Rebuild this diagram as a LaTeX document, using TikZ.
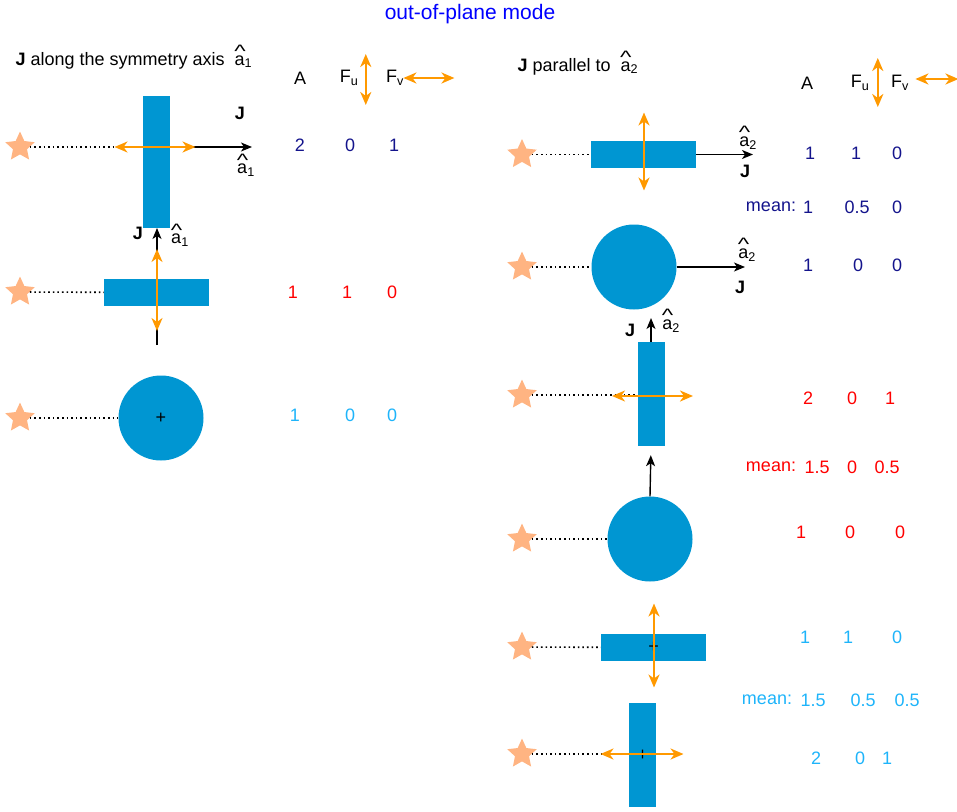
\documentclass[tikz,border=0pt]{standalone}
\usepackage{fontspec}
\usepackage{graphicx}
\setmainfont{Liberation Sans}
\usetikzlibrary{shapes.geometric, arrows.meta}

\definecolor{beamblue}{RGB}{0,150,210}
\definecolor{starorange}{RGB}{255,180,130}
\definecolor{forceorange}{RGB}{255,153,0}
\definecolor{valnavy}{RGB}{20,20,140}
\definecolor{valsky}{RGB}{30,180,250}

% a with a hat and an index
\newcommand{\ahat}[1]{\makebox[0pt][l]{\raisebox{0.42em}{\kern-0.02em\scalebox{1.35}[1]{\char"5E}}}a\textsubscript{#1}}

\tikzset{
    source/.style={star, star points=5, star point ratio=2.1, fill=starorange, minimum size=31pt, inner sep=0pt},
    hbeam/.style={rectangle, fill=beamblue, minimum width=105pt, minimum height=27pt, inner sep=0pt},
    vbeam/.style={rectangle, fill=beamblue, minimum width=27pt, minimum height=104pt, inner sep=0pt},
    disc/.style={circle, fill=beamblue, minimum size=85pt, inner sep=0pt},
    ray/.style={dash pattern=on 1.6pt off 3pt, line width=1.6pt},
    jarrow/.style={-{Stealth[length=11pt, width=9pt, inset=3pt]}, line width=1.4pt},
    farrow/.style={{Stealth[length=13pt, width=11pt, inset=4pt]}-{Stealth[length=13pt, width=11pt, inset=4pt]}, draw=forceorange, line width=2.2pt},
    bold/.style={font=\fontsize{18}{21}\selectfont\bfseries},
}

\begin{document}
\begin{tikzpicture}[x=1pt, y=-1pt, every node/.style={font=\fontsize{18}{21}\selectfont}]
    \useasboundingbox (0,0) rectangle (957,811);

    \node[text=blue, font=\fontsize{21}{24}\selectfont] (title) at (470,14) {out-of-plane mode};

    % left column: J along a1
    \node[anchor=west] (headL) at (12,57) {\textbf{J} along the symmetry axis \ \ahat{1}};
    \node (colAL) at (300,78) {A};
    \node (colFuL) at (349,78) {F\textsubscript{u}};
    \node (colFvL) at (395,78) {F\textsubscript{v}};
    \draw[farrow] ([shift={(4,-24)}]colFuL.east) -- ([shift={(4,27)}]colFuL.east);
    \draw[farrow] ([xshift=-4pt]colFvL.east) -- ([xshift=47pt]colFvL.east);

    % row 1
    \coordinate (jL1) at (252,147);
    \node[source] (sL1) at (20,147) {};
    \node[vbeam, minimum height=132pt] (bL1) at (156.5,162) {};
    \draw[ray] (sL1) -- ([yshift=15pt]bL1.west);
    \draw[jarrow] ([yshift=15pt]bL1.east) -- (jL1);
    \draw[farrow] ([shift={(-42,-15)}]bL1.center) -- ([shift={(39,-15)}]bL1.center);
    \node[bold] at (240,113) {J};
    \node at (246,165) {\ahat{1}};
    \node[text=valnavy] at (300,145) {2};
    \node[text=valnavy] at (350,145) {0};
    \node[text=valnavy] at (394,145) {1};

    % row 2
    \coordinate (tL2) at (157,345);
    \coordinate (jL2) at (157,228);
    \draw[jarrow] (tL2) -- (jL2);
    \node[source] (sL2) at (20,292) {};
    \node[hbeam] (bL2) at (156.5,292.5) {};
    \draw[ray] (sL2) -- (bL2);
    \draw[farrow] ([shift={(0.5,-43.5)}]bL2.center) -- ([shift={(0.5,38.5)}]bL2.center);
    \node[bold] at (138,233) {J};
    \node at (180,235) {\ahat{1}};
    \node[text=red] at (293,292) {1};
    \node[text=red] at (347,292) {1};
    \node[text=red] at (392,292) {0};

    % row 3
    \node[source] (sL3) at (20,418) {};
    \node[disc] (cL3) at (161,418) {};
    \draw[ray] (sL3) -- (cL3);
    \node at (cL3.center) {+};
    \node[text=valsky] at (295,415) {1};
    \node[text=valsky] at (350,415) {0};
    \node[text=valsky] at (392,415) {0};

    % right column: J parallel to a2
    \node[anchor=west] (headR) at (514,63) {\textbf{J} parallel to \ \ahat{2}};
    \node (colAR) at (807,83) {A};
    \node (colFuR) at (860,83) {F\textsubscript{u}};
    \node (colFvR) at (900,83) {F\textsubscript{v}};
    \draw[farrow] ([shift={(5,-25)}]colFuR.east) -- ([shift={(5,24)}]colFuR.east);
    \draw[farrow] ([shift={(3,-4)}]colFvR.east) -- ([shift={(46,-4)}]colFvR.east);

    % row 1
    \coordinate (jR1) at (753,154.5);
    \node[source] (sR1) at (522,154.5) {};
    \node[hbeam] (bR1) at (643.5,154.5) {};
    \draw[ray] (sR1) -- (bR1);
    \draw[jarrow] (bR1.east) -- (jR1);
    \draw[farrow] ([shift={(0.5,-42)}]bR1.center) -- ([shift={(0.5,36)}]bR1.center);
    \node at (748,138) {\ahat{2}};
    \node[bold] at (745,171) {J};
    \node[text=valnavy] at (810,153) {1};
    \node[text=valnavy] at (856,153) {1};
    \node[text=valnavy] at (897,153) {0};
    \node[text=valnavy] at (771,207) {mean:};
    \node[text=valnavy] at (808,207) {1};
    \node[text=valnavy] at (857,207) {0.5};
    \node[text=valnavy] at (897,207) {0};

    % row 2
    \coordinate (jR2) at (745,267);
    \node[source] (sR2) at (522,267) {};
    \node[disc] (cR2) at (634,267) {};
    \draw[ray] (sR2) -- (cR2);
    \draw[jarrow] (cR2.east) -- (jR2);
    \node at (747,250) {\ahat{2}};
    \node[bold] at (740,287) {J};
    \node[text=valnavy] at (808,265) {1};
    \node[text=valnavy] at (858,265) {0};
    \node[text=valnavy] at (897,265) {0};

    % row 3
    \coordinate (jR3) at (651,318);
    \node[source] (sR3) at (522,395) {};
    \node[vbeam] (bR3) at (651,394) {};
    \draw[ray] (sR3) -- ([yshift=-1pt]bR3.west);
    \draw[jarrow] (bR3.north) -- (jR3);
    \draw[farrow] ([shift={(-39,2)}]bR3.center) -- ([shift={(42,2)}]bR3.center);
    \node[bold] at (630,330) {J};
    \node at (671,321) {\ahat{2}};
    \node[text=red] at (808,398) {2};
    \node[text=red] at (852,398) {0};
    \node[text=red] at (890,398) {1};
    \node[text=red] at (771,467) {mean:};
    \node[text=red] at (817,467) {1.5};
    \node[text=red] at (852,467) {0};
    \node[text=red] at (887,467) {0.5};

    % row 4
    \node[source] (sR4) at (522,539) {};
    \node[disc] (cR4) at (650,539) {};
    \draw[ray] (sR4) -- (cR4);
    \draw[jarrow, shorten >=9pt] (cR4.north) -- (bR3.south);
    \node[text=red] at (801,532) {1};
    \node[text=red] at (850,532) {0};
    \node[text=red] at (900,532) {0};

    % row 5
    \node[source] (sR5) at (522,647) {};
    \node[hbeam] (bR5) at (653.5,647.5) {};
    \draw[ray] (sR5) -- (bR5);
    \node at (bR5.center) {+};
    \draw[farrow] ([shift={(0.5,-44)}]bR5.center) -- ([shift={(0.5,40)}]bR5.center);
    \node[text=valsky] at (805,637) {1};
    \node[text=valsky] at (848,637) {1};
    \node[text=valsky] at (897,637) {0};
    \node[text=valsky] at (767,700) {mean:};
    \node[text=valsky] at (813,700) {1.5};
    \node[text=valsky] at (863,700) {0.5};
    \node[text=valsky] at (907,700) {0.5};

    % row 6
    \node[source] (sR6) at (522,754) {};
    \node[vbeam] (bR6) at (642.5,755) {};
    \draw[ray] (sR6) -- ([yshift=1pt]bR6.west);
    \node at (bR6.center) {+};
    \draw[farrow] ([shift={(-42,-1)}]bR6.center) -- ([shift={(41,-1)}]bR6.center);
    \node[text=valsky] at (816,758) {2};
    \node[text=valsky] at (860,758) {0};
    \node[text=valsky] at (887,758) {1};
\end{tikzpicture}
\end{document}
